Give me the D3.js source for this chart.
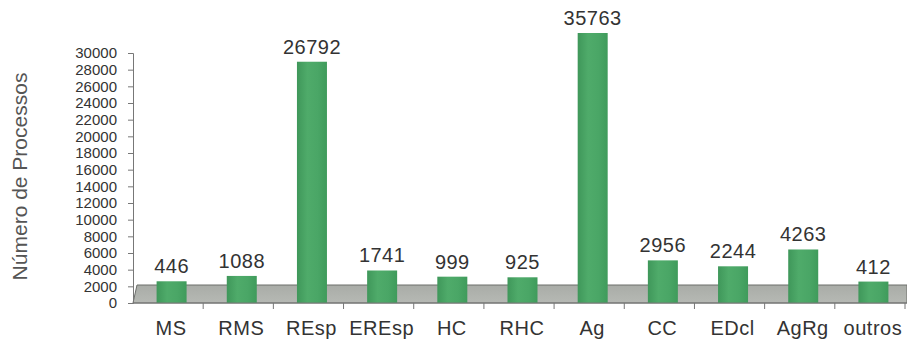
<!DOCTYPE html>
<html>
<head>
<meta charset="utf-8">
<script src="https://cdn.jsdelivr.net/npm/d3@7"></script>
<style>
  html, body { margin: 0; padding: 0; background: #ffffff; }
  svg { display: block; font-family: "Liberation Sans", Arial, sans-serif; }
</style>
</head>
<body>
<svg id="chart" width="907" height="341"></svg>
<script>
// Processos por classe
const categories = ["MS", "RMS", "REsp", "EREsp", "HC", "RHC", "Ag", "CC", "EDcl", "AgRg", "outros"];
const values = [446, 1088, 26792, 1741, 999, 925, 35763, 2956, 2244, 4263, 412];
const yTicks = [0, 2000, 4000, 6000, 8000, 10000, 12000, 14000, 16000, 18000, 20000, 22000, 24000, 26000, 28000, 30000];
const yTitle = "Número de Processos";

const svg = d3.select("#chart");
const margin = { left: 133, right: 2, top: 53, bottom: 38 };
const W = 907, H = 341;
const depth = 18;      // vertical offset of the back wall
const skew = 4;        // horizontal offset of the back wall

const x = d3.scaleBand()
  .domain(categories)
  .range([margin.left, W - margin.right - skew + 4])
  .paddingInner(0).paddingOuter(0);

const y = d3.scaleLinear()
  .domain([0, d3.max(yTicks)])
  .range([H - margin.bottom, margin.top]);

const y0 = y(0);
const backY = y0 - depth;
const barW = 30;

const defs = svg.append("defs");
const grad = defs.append("linearGradient").attr("id", "barGrad")
  .attr("x1", "0%").attr("x2", "100%").attr("y1", "0%").attr("y2", "0%");
grad.append("stop").attr("offset", "0%").attr("stop-color", "#3f975a");
grad.append("stop").attr("offset", "35%").attr("stop-color", "#4fab6a");
grad.append("stop").attr("offset", "70%").attr("stop-color", "#4aa666");
grad.append("stop").attr("offset", "100%").attr("stop-color", "#3f9b5b");

const floorGrad = defs.append("linearGradient").attr("id", "floorGrad")
  .attr("x1", "0%").attr("x2", "0%").attr("y1", "0%").attr("y2", "100%");
floorGrad.append("stop").attr("offset", "0%").attr("stop-color", "#a9aca7");
floorGrad.append("stop").attr("offset", "100%").attr("stop-color", "#b6b9b4");

// bars taller than the plot are cut at the top of the back wall
const clipTop = y(d3.max(yTicks)) - depth - 2;
defs.append("clipPath").attr("id", "plotClip")
  .append("rect")
  .attr("x", 0).attr("y", clipTop)
  .attr("width", W).attr("height", H);

// floor
const x0 = x.range()[0];
const xEnd = W;
svg.append("path")
  .attr("d", `M${x0},${y0} L${x0 + skew},${backY} L${xEnd},${backY} L${xEnd},${y0} Z`)
  .attr("fill", "url(#floorGrad)")
  .attr("stroke", "#6c6e6b")
  .attr("stroke-width", 1);

// bars
const bars = svg.append("g").attr("clip-path", "url(#plotClip)");
bars.selectAll("rect")
  .data(values)
  .join("rect")
  .attr("x", (d, i) => x(categories[i]) + x.bandwidth() / 2 + 3.5 - barW / 2)
  .attr("y", d => y(d) - depth)
  .attr("width", barW)
  .attr("height", d => y0 - (y(d) - depth))
  .attr("fill", "url(#barGrad)");

// value labels
svg.append("g").selectAll("text")
  .data(values)
  .join("text")
  .attr("x", (d, i) => x(categories[i]) + x.bandwidth() / 2 + 3.5)
  .attr("y", d => Math.max(y(d) - depth, clipTop) - 8)
  .attr("text-anchor", "middle")
  .attr("font-size", 20)
  .attr("letter-spacing", 0.5)
  .attr("fill", "#333")
  .text(d => d);

// y axis
const yAxis = svg.append("g")
  .attr("transform", `translate(${margin.left},0)`)
  .call(d3.axisLeft(y).tickValues(yTicks).tickSize(5).tickPadding(11).tickFormat(d3.format("d")));
yAxis.select(".domain").attr("stroke", "#777");
yAxis.selectAll(".tick line").attr("stroke", "#777");
yAxis.selectAll(".tick text")
  .attr("font-size", 15)
  .attr("font-family", "Liberation Sans, Arial, sans-serif")
  .attr("fill", "#333");

// x axis
const xAxis = svg.append("g")
  .attr("transform", `translate(0,${y0})`)
  .call(d3.axisBottom(x).tickSize(0).tickPadding(0));
xAxis.select(".domain").remove();
xAxis.selectAll(".tick text")
  .attr("dx", 3)
  .attr("y", 32)
  .attr("dy", 0)
  .attr("font-size", 20)
  .attr("letter-spacing", 0.5)
  .attr("font-family", "Liberation Sans, Arial, sans-serif")
  .attr("fill", "#333");
svg.append("line")
  .attr("x1", x0).attr("x2", xEnd).attr("y1", y0).attr("y2", y0)
  .attr("stroke", "#777");
svg.append("g").selectAll("line")
  .data(categories.slice(1).concat(["end"]))
  .join("line")
  .attr("x1", (d, i) => x0 + (i + 1) * x.step())
  .attr("x2", (d, i) => x0 + (i + 1) * x.step())
  .attr("y1", y0).attr("y2", y0 + 6)
  .attr("stroke", "#777");

// y title
svg.append("text")
  .attr("transform", `translate(27,${(70 + 283) / 2}) rotate(-90)`)
  .attr("text-anchor", "middle")
  .attr("font-size", 21)
  .attr("fill", "#555")
  .text(yTitle);
</script>
</body>
</html>
